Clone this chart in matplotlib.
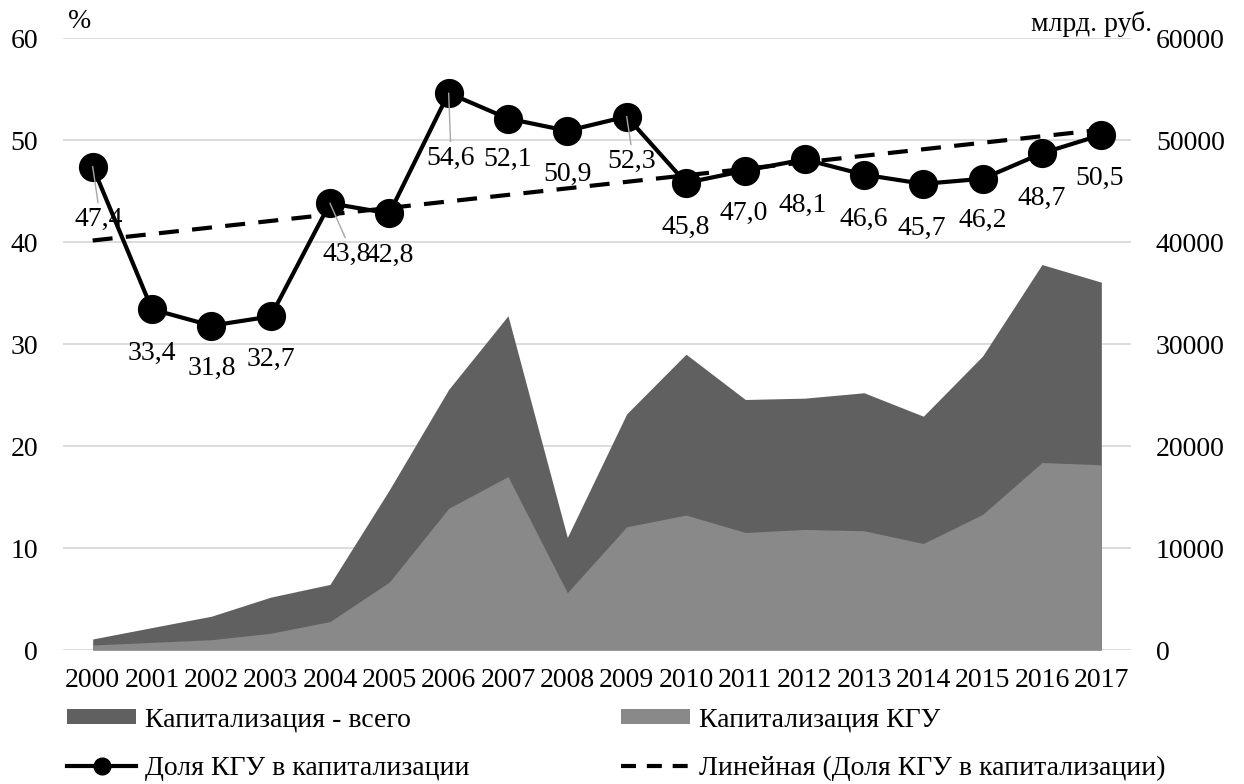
import numpy as np
import matplotlib.pyplot as plt
from matplotlib.lines import Line2D
from matplotlib.patches import Patch

plt.rcParams['font.family'] = ['Liberation Serif', 'DejaVu Serif']
plt.rcParams['font.size'] = 20

years = [str(y) for y in range(2000, 2018)]
cap_total = [1080, 2200, 3310, 5180, 6430, 15700, 25550, 32770, 11030,
             23150, 29000, 24560, 24690, 25220, 22920, 28830, 37790, 36060]
cap_kgu = [490, 750, 1010, 1640, 2790, 6660, 13890, 17000, 5620,
           12080, 13230, 11520, 11820, 11690, 10440, 13300, 18380, 18160]
share = [47.4, 33.4, 31.8, 32.7, 43.8, 42.8, 54.6, 52.1, 50.9,
         52.3, 45.8, 47.0, 48.1, 46.6, 45.7, 46.2, 48.7, 50.5]

# label offsets in pixels (dx, dy) and which ones get a leader line
lbl_off = [(6, -53), (0, -44), (0, -43), (0, -43), (17, -51), (0, -42),
           (2, -65), (0, -41), (0, -44), (5, -45), (0, -45), (-2, -43),
           (-2, -46), (0, -45), (-2, -45), (0, -42), (0, -45), (-2, -44)]
leader = [0, 4, 6, 9]

W, H = 1244, 784
fig = plt.figure(figsize=(W / 100, H / 100), dpi=100)
ax = fig.add_axes([63 / W, 1 - 650 / H, (1131 - 63) / W, (650 - 38) / H])
ax2 = ax.twinx()

x = np.arange(len(years))

# areas on the right axis
ax2.fill_between(x, cap_total, color='#606060', lw=0, zorder=2)
ax2.fill_between(x, cap_kgu, color='#898989', lw=0, zorder=2)
ax2.set_ylim(0, 60000)
ax2.set_yticks(range(0, 60001, 10000))
ax2.grid(axis='y', color='#d9d9d9', lw=1.3)
ax2.set_axisbelow(True)
ax2.tick_params(axis='y', length=0, pad=18)

# share line + linear trend on the left axis
ax.set_zorder(ax2.get_zorder() + 1)
ax.patch.set_visible(False)
k, b = np.polyfit(x, share, 1)
trend = k * x + b
ax.plot(x, trend, color='black', lw=3, dashes=(4.8, 3.2), zorder=2)
ax.plot(x, share, color='black', lw=3, marker='o', markersize=20, zorder=3)

for i, v in enumerate(share):
    txt = f"{v:.1f}".replace('.', ',')
    dx, dy = lbl_off[i]
    if i in leader:
        ax.annotate(txt, (x[i], v), xytext=(dx, dy), textcoords='offset pixels',
                    ha='center', va='center', fontsize=20, zorder=5,
                    arrowprops=dict(arrowstyle='-', color='#a6a6a6', lw=1,
                                    shrinkA=1, shrinkB=0, relpos=(0.5, 1)))
    else:
        ax.annotate(txt, (x[i], v), xytext=(dx, dy), textcoords='offset pixels',
                    ha='center', va='center', fontsize=20, zorder=5)

ax.set_ylim(0, 60)
ax.set_yticks(range(0, 61, 10))
ax.set_xlim(-0.5, len(years) - 0.5)
ax.set_xticks(x)
ax.set_xticklabels(years)
ax.tick_params(axis='y', length=0, pad=18)
ax.tick_params(axis='x', length=0, pad=13)
for a in (ax, ax2):
    for s in a.spines.values():
        s.set_visible(False)

fig.text(68 / W, 1 - 28 / H, '%', ha='left', va='baseline', fontsize=20)
fig.text(1152 / W, 1 - 31 / H, 'млрд. руб.', ha='right', va='baseline', fontsize=20)

h_total = Patch(color='#606060', lw=0)
h_kgu = Patch(color='#898989', lw=0)
h_share = Line2D([], [], color='black', lw=3, marker='o', markersize=12)
h_trend = Line2D([], [], color='black', lw=3, dashes=(3.6, 2.6))

leg_kw = dict(loc='upper left', frameon=False, fontsize=20, borderpad=0,
              borderaxespad=0, handlelength=2.5, handleheight=0.45,
              handletextpad=0.3, labelspacing=0.85)
fig.legend([h_total, h_share], ['Капитализация - всего', 'Доля КГУ в капитализации'],
           bbox_to_anchor=(67 / W, 1 - 707 / H), **leg_kw)
fig.legend([h_kgu, h_trend], ['Капитализация КГУ', 'Линейная (Доля КГУ в капитализации)'],
           bbox_to_anchor=(621 / W, 1 - 707 / H), **leg_kw)

fig.savefig('out.png', dpi=100)
